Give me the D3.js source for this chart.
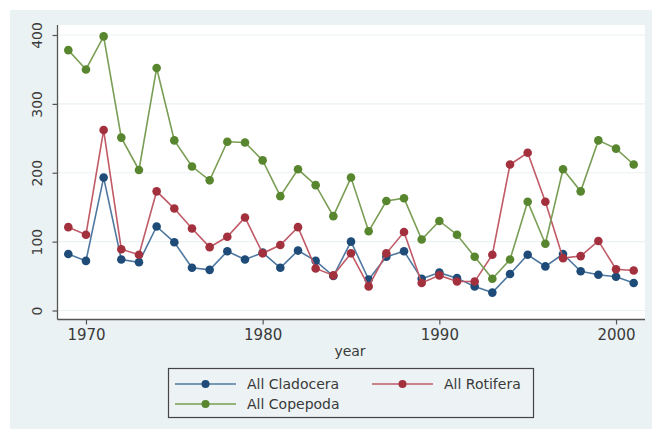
<!DOCTYPE html>
<html>
<head>
<meta charset="utf-8">
<script src="https://cdn.jsdelivr.net/npm/d3@7"></script>
<style>
  html, body { margin: 0; padding: 0; background: #ffffff; }
  svg { display: block; }
  text { font-family: "DejaVu Sans", Verdana, sans-serif; fill: #3a3a3a; }
</style>
</head>
<body>
<svg id="chart" width="652" height="429"></svg>
<script>
const years = d3.range(1969, 2002);
const cladocera = [82,72,193,74,70,122,99,62,59,86,74,84,62,87,72,50,100,45,78,86,46,55,47,35,26,53,81,64,82,57,52,49,40];
const rotifera  = [121,110,262,89,81,173,148,119,92,107,135,83,95,121,61,51,83,35,83,114,40,51,42,42,81,212,229,158,76,79,101,60,58];
const copepoda  = [378,350,398,251,204,352,247,209,189,245,244,218,166,205,182,137,193,115,159,163,103,130,110,78,46,74,158,97,205,173,247,235,212];
const xTicks = [1970, 1980, 1990, 2000];
const yTicks = [0, 100, 200, 300, 400];
const seriesNames = ["All Cladocera", "All Rotifera", "All Copepoda"];

const series = [
  {name: seriesNames[0], values: cladocera, color: "#1f4b78", line: "#4f78a0"},
  {name: seriesNames[1], values: rotifera,  color: "#a3303d", line: "#c05a66"},
  {name: seriesNames[2], values: copepoda,  color: "#58862f", line: "#7a9e55"}
];

const svg = d3.select("#chart");

// graph region
svg.append("rect").attr("x", 10).attr("y", 10).attr("width", 642).attr("height", 419).attr("fill", "#eaf2f3");

// plot region
const plot = {left: 57.5, right: 645, top: 25, bottom: 319.5};
svg.append("rect").attr("x", plot.left).attr("y", plot.top)
  .attr("width", plot.right - plot.left).attr("height", plot.bottom - plot.top).attr("fill", "#ffffff");

const x = d3.scaleLinear().domain([1969, 2001]).range([68.3, 633.7]);
const y = d3.scaleLinear().domain([0, 400]).range([310.5, 35]);

// grid
svg.append("g").selectAll("line").data(yTicks).join("line")
  .attr("x1", plot.left).attr("x2", plot.right)
  .attr("y1", d => y(d)).attr("y2", d => y(d))
  .attr("stroke", "#eaf2f3").attr("stroke-width", 1.2);

// y axis
const yAxis = svg.append("g").attr("transform", `translate(${plot.left},0)`)
  .call(d3.axisLeft(y).tickValues(yTicks).tickSize(5).tickPadding(8).tickSizeOuter(0));
yAxis.select(".domain").remove();
yAxis.append("line").attr("x1", 0).attr("x2", 0).attr("y1", plot.top).attr("y2", plot.bottom)
  .attr("stroke", "#555").attr("stroke-width", 1.3);
yAxis.selectAll(".tick line").attr("stroke", "#555").attr("stroke-width", 1.2);
yAxis.selectAll(".tick text")
  .attr("font-size", 14).attr("font-family", "DejaVu Sans").attr("fill", "#3a3a3a")
  .attr("text-anchor", "middle")
  .attr("x", 0).attr("y", 0).attr("dy", "0.36em")
  .attr("transform", "translate(-21,0) rotate(-90)");

// x axis
const xAxis = svg.append("g").attr("transform", `translate(0,${plot.bottom})`)
  .call(d3.axisBottom(x).tickValues(xTicks).tickFormat(d3.format("d")).tickSize(5).tickPadding(5).tickSizeOuter(0));
xAxis.select(".domain").remove();
xAxis.append("line").attr("x1", plot.left).attr("x2", plot.right).attr("y1", 0).attr("y2", 0)
  .attr("stroke", "#555").attr("stroke-width", 1.3);
xAxis.selectAll(".tick line").attr("stroke", "#555").attr("stroke-width", 1.2);
xAxis.selectAll(".tick text").attr("font-size", 15).attr("font-family", "DejaVu Sans").attr("fill", "#3a3a3a");

svg.append("text").attr("x", 350).attr("y", 356).attr("text-anchor", "middle")
  .attr("font-size", 14).text("year");

const line = d3.line().x((d, i) => x(years[i])).y(d => y(d));
series.forEach(s => {
  svg.append("path").datum(s.values).attr("d", line)
    .attr("fill", "none").attr("stroke", s.line).attr("stroke-width", 1.6);
  svg.append("g").selectAll("circle").data(s.values).join("circle")
    .attr("cx", (d, i) => x(years[i])).attr("cy", d => y(d)).attr("r", 4.3)
    .attr("fill", s.color);
});

// legend
const lg = svg.append("g");
lg.append("rect").attr("x", 168.5).attr("y", 368.5).attr("width", 365).attr("height", 49)
  .attr("fill", "#edf3f4").attr("stroke", "#444").attr("stroke-width", 1.2);
const legendPos = [
  {x: 175, y: 384}, {x: 372, y: 384}, {x: 175, y: 404}
];
series.forEach((s, i) => {
  const p = legendPos[i];
  lg.append("line").attr("x1", p.x).attr("x2", p.x + 61).attr("y1", p.y).attr("y2", p.y)
    .attr("stroke", s.line).attr("stroke-width", 1.6);
  lg.append("circle").attr("cx", p.x + 30.5).attr("cy", p.y).attr("r", 4).attr("fill", s.color);
  lg.append("text").attr("x", p.x + 72).attr("y", p.y).attr("dy", "0.36em")
    .attr("font-size", 14).text(s.name);
});
</script>
</body>
</html>
